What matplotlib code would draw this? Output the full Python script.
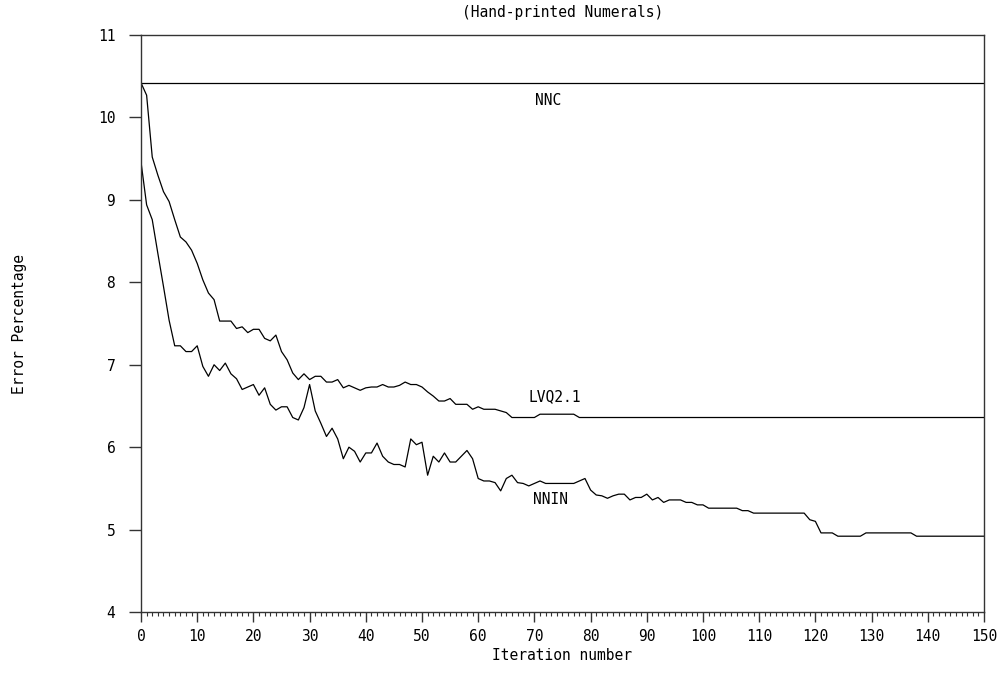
import matplotlib
matplotlib.use("Agg")
import matplotlib.pyplot as plt
from matplotlib.ticker import MultipleLocator

# error percentage per iteration
iterations = list(range(0, 151))

lvq21_error = [
    10.42, 10.27, 9.52, 9.30, 9.10, 8.98, 8.76, 8.55, 8.49, 8.39,
    8.23, 8.03, 7.87, 7.79, 7.53, 7.53, 7.53, 7.44, 7.46, 7.39,
    7.43, 7.43, 7.32, 7.29, 7.36, 7.16, 7.06, 6.90, 6.82, 6.89,
    6.82, 6.86, 6.86, 6.79, 6.79, 6.82, 6.72, 6.75, 6.72, 6.69,
    6.72, 6.73, 6.73, 6.76, 6.73, 6.73, 6.75, 6.79, 6.76, 6.76,
    6.73, 6.67, 6.62, 6.56, 6.56, 6.59, 6.52, 6.52, 6.52, 6.46,
    6.49, 6.46, 6.46, 6.46, 6.44, 6.42, 6.36, 6.36, 6.36, 6.36,
    6.36, 6.40, 6.40, 6.40, 6.40, 6.40, 6.40, 6.40, 6.36, 6.36,
    6.36, 6.36, 6.36, 6.36, 6.36, 6.36, 6.36, 6.36, 6.36, 6.36,
    6.36, 6.36, 6.36, 6.36, 6.36, 6.36, 6.36, 6.36, 6.36, 6.36,
    6.36, 6.36, 6.36, 6.36, 6.36, 6.36, 6.36, 6.36, 6.36, 6.36,
    6.36, 6.36, 6.36, 6.36, 6.36, 6.36, 6.36, 6.36, 6.36, 6.36,
    6.36, 6.36, 6.36, 6.36, 6.36, 6.36, 6.36, 6.36, 6.36, 6.36,
    6.36, 6.36, 6.36, 6.36, 6.36, 6.36, 6.36, 6.36, 6.36, 6.36,
    6.36, 6.36, 6.36, 6.36, 6.36, 6.36, 6.36, 6.36, 6.36, 6.36,
    6.36,
]

nnin_error = [
    9.46, 8.94, 8.76, 8.35, 7.95, 7.54, 7.23, 7.23, 7.16, 7.16,
    7.23, 6.98, 6.86, 7.00, 6.93, 7.02, 6.89, 6.83, 6.70, 6.73,
    6.76, 6.63, 6.72, 6.52, 6.45, 6.49, 6.49, 6.36, 6.33, 6.48,
    6.76, 6.44, 6.29, 6.13, 6.23, 6.10, 5.86, 6.00, 5.95, 5.82,
    5.93, 5.93, 6.05, 5.89, 5.82, 5.79, 5.79, 5.76, 6.10, 6.03,
    6.06, 5.66, 5.89, 5.82, 5.93, 5.82, 5.82, 5.89, 5.96, 5.86,
    5.62, 5.59, 5.59, 5.57, 5.47, 5.62, 5.66, 5.57, 5.56, 5.53,
    5.56, 5.59, 5.56, 5.56, 5.56, 5.56, 5.56, 5.56, 5.59, 5.62,
    5.48, 5.42, 5.41, 5.38, 5.41, 5.43, 5.43, 5.36, 5.39, 5.39,
    5.43, 5.36, 5.39, 5.33, 5.36, 5.36, 5.36, 5.33, 5.33, 5.30,
    5.30, 5.26, 5.26, 5.26, 5.26, 5.26, 5.26, 5.23, 5.23, 5.20,
    5.20, 5.20, 5.20, 5.20, 5.20, 5.20, 5.20, 5.20, 5.20, 5.12,
    5.10, 4.96, 4.96, 4.96, 4.92, 4.92, 4.92, 4.92, 4.92, 4.96,
    4.96, 4.96, 4.96, 4.96, 4.96, 4.96, 4.96, 4.96, 4.92, 4.92,
    4.92, 4.92, 4.92, 4.92, 4.92, 4.92, 4.92, 4.92, 4.92, 4.92,
    4.92,
]

nnc_error = 10.42

x_ticks = list(range(0, 151, 10))
y_ticks = [4, 5, 6, 7, 8, 9, 10, 11]

# curve name, label x, label y
curve_labels = [
    ("NNC", 72.4, 10.21),
    ("LVQ2.1", 73.7, 6.61),
    ("NNIN", 72.8, 5.36),
]

plt.rcParams['font.family'] = ['DejaVu Sans Mono', 'DejaVu Sans']

fig = plt.figure(figsize=(10.05, 6.9), dpi=100)
ax = fig.add_axes([0.1403, 0.1130, 0.8388, 0.8362])

line_kw = dict(color='black', linewidth=0.9)
ax.plot([iterations[0], iterations[-1]], [nnc_error, nnc_error], **line_kw)
ax.plot(iterations, lvq21_error, **line_kw)
ax.plot(iterations, nnin_error, **line_kw)

for name, lx, ly in curve_labels:
    ax.text(lx, ly, name, ha='center', va='center', fontsize=10.5)

ax.set_xlim(0, 150)
ax.set_ylim(4, 11)
ax.set_xticks(x_ticks)
ax.set_yticks(y_ticks)
ax.xaxis.set_minor_locator(MultipleLocator(1))

for side in ['left', 'right', 'top', 'bottom']:
    ax.spines[side].set_color('#333333')
    ax.spines[side].set_linewidth(1.0)

ax.tick_params(axis='x', which='major', direction='out', length=7, width=1.0,
               pad=5, labelsize=10.5, color='#333333')
ax.tick_params(axis='x', which='minor', direction='out', length=3, width=0.8,
               color='#333333')
ax.tick_params(axis='y', which='major', direction='out', length=8.5, width=1.0,
               pad=10, labelsize=10.5, color='#333333')

ax.set_xlabel('Iteration number', fontsize=10.5, labelpad=3)
ax.set_ylabel('Error Percentage', fontsize=10.5, labelpad=51)
ax.set_title('(Hand-printed Numerals)', fontsize=10.5, pad=13)

fig.savefig('out.png', dpi=100)
